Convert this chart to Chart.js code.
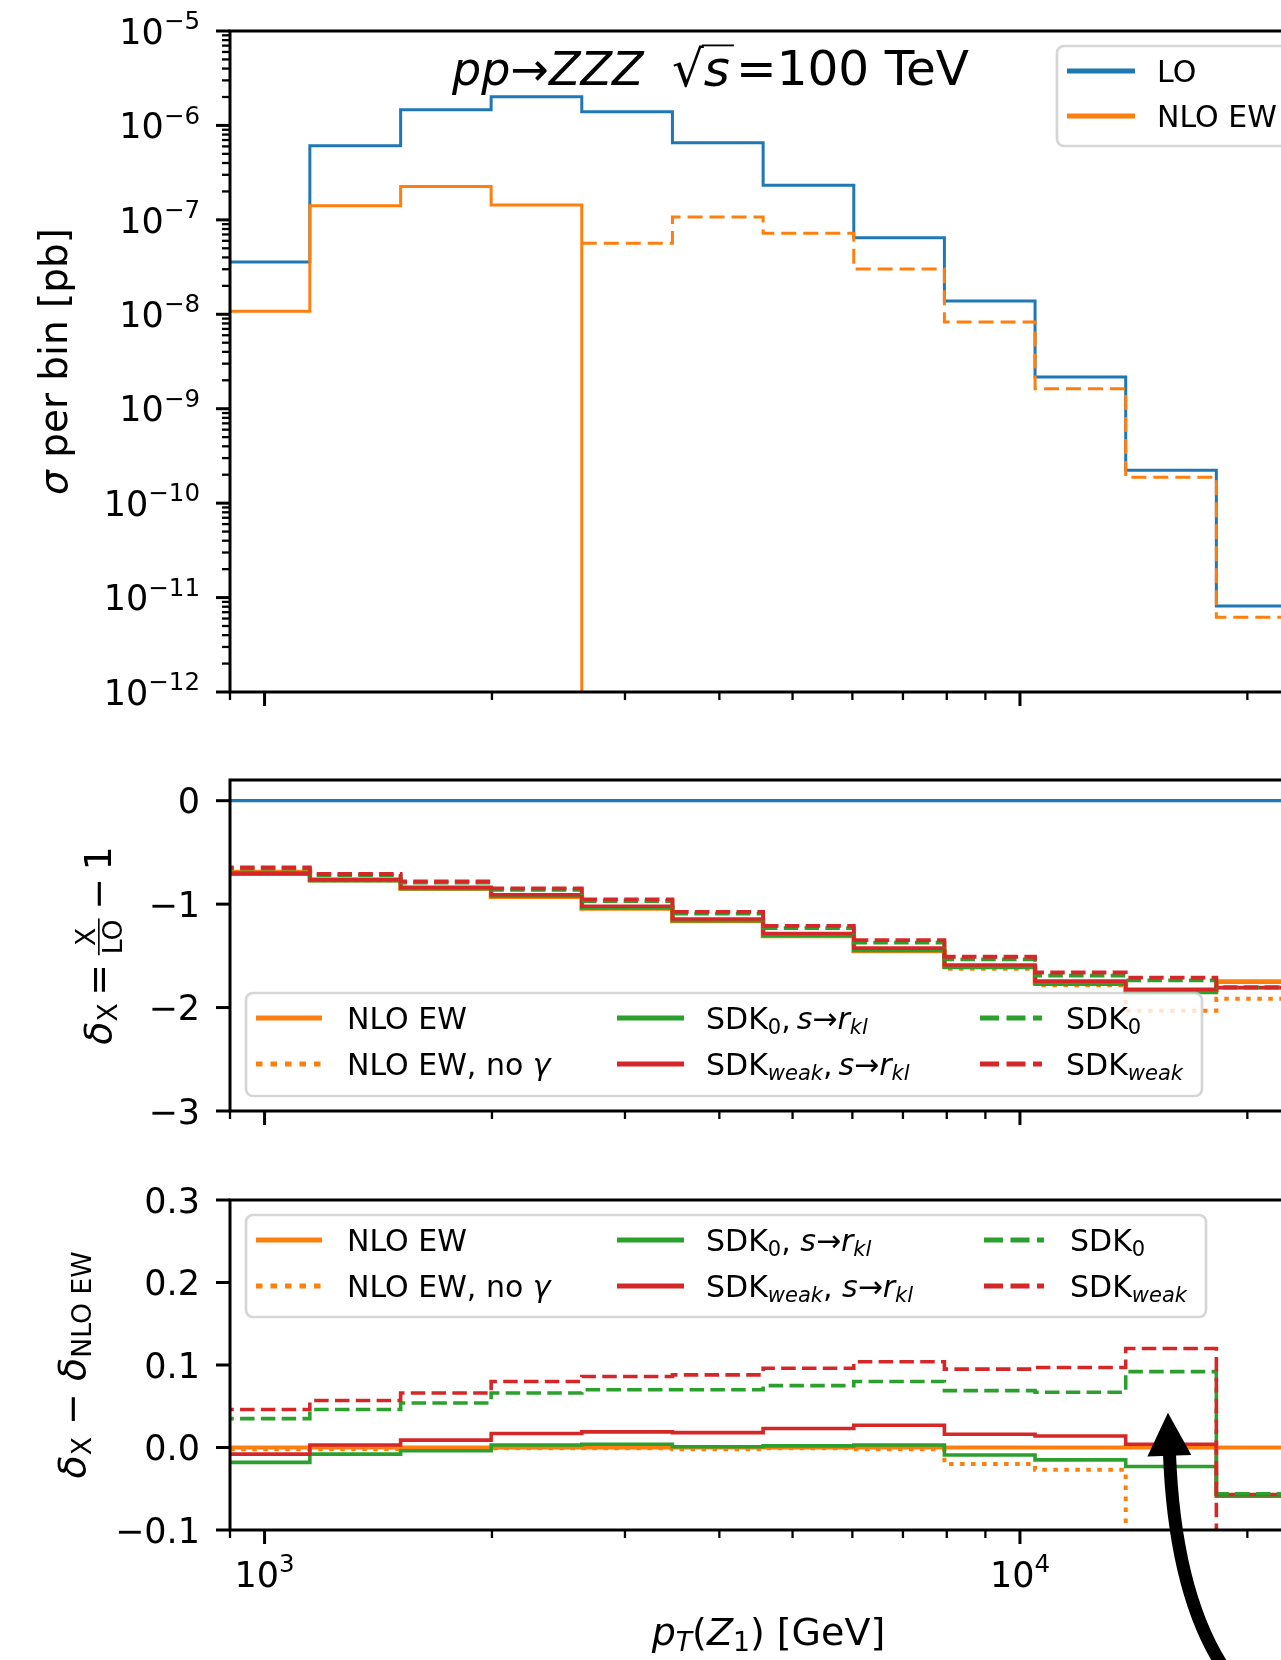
<!DOCTYPE html>
<html>
<head>
<meta charset="utf-8">
<title>pp -> ZZZ pT(Z1)</title>
<script src="https://cdn.jsdelivr.net/npm/chart.js@4.4.1/dist/chart.umd.min.js"></script>
<style>
    html, body { margin: 0; padding: 0; background: #fff; overflow: hidden; width: 1281px; height: 1660px; }
    canvas { position: absolute; left: 0; }
</style>
</head>
<body>
<canvas id="chart-sigma" width="1400" height="740" style="top:0px"></canvas>
<canvas id="chart-delta" width="1400" height="410" style="top:740px"></canvas>
<canvas id="chart-diff" width="1400" height="510" style="top:1150px"></canvas>
<script>
// ---- values ----
const binEdges = [871, 1148, 1514, 1995, 2630, 3467, 4571, 6026, 7943, 10471, 13804, 18197, 23988];

// top panel: sigma per bin [pb] (negative NLO values are drawn dashed as |value|)
const sigmaLO = [3.58e-8, 6.1e-7, 1.47e-6, 2.01e-6, 1.40e-6, 6.56e-7, 2.32e-7, 6.47e-8, 1.38e-8, 2.17e-9, 2.23e-10, 8.14e-12];
const sigmaNLOEW = [1.08e-8, 1.41e-7, 2.26e-7, 1.44e-7, -5.64e-8, -1.07e-7, -7.2e-8, -3.02e-8, -8.28e-9, -1.63e-9, -1.88e-10, -6.18e-12];

// middle panel: delta_X = X/LO - 1
const deltaLO = [0, 0, 0, 0, 0, 0, 0, 0, 0, 0, 0, 0];
const deltaNLOEW = [-0.692, -0.766, -0.847, -0.927, -1.040, -1.162, -1.307, -1.452, -1.604, -1.758, -1.830, -1.749];
const deltaNLOnoGamma = [-0.694, -0.768, -0.848, -0.928, -1.041, -1.164, -1.308, -1.454, -1.624, -1.785, -2.030, -1.916];
const deltaSDK0rkl = [-0.710, -0.774, -0.851, -0.924, -1.036, -1.161, -1.305, -1.449, -1.613, -1.773, -1.853, -1.808];
const deltaSDKweakRkl = [-0.700, -0.763, -0.838, -0.910, -1.021, -1.144, -1.284, -1.425, -1.588, -1.744, -1.826, -1.806];
const deltaSDK0 = [-0.657, -0.720, -0.793, -0.861, -0.970, -1.092, -1.232, -1.372, -1.535, -1.691, -1.738, -1.805];
const deltaSDKweak = [-0.646, -0.709, -0.781, -0.847, -0.954, -1.074, -1.211, -1.348, -1.509, -1.661, -1.710, -1.804];

// bottom panel: delta_X - delta_NLO EW
const diffNLOEW = [0, 0, 0, 0, 0, 0, 0, 0, 0, 0, 0, 0];
const diffNLOnoGamma = [-0.002, -0.002, -0.001, -0.001, -0.001, -0.002, -0.001, -0.002, -0.020, -0.027, -0.21, -0.167];
const diffSDK0rkl = [-0.018, -0.008, -0.004, 0.003, 0.004, 0.001, 0.002, 0.003, -0.009, -0.015, -0.023, -0.059];
const diffSDKweakRkl = [-0.008, 0.003, 0.009, 0.017, 0.019, 0.018, 0.023, 0.027, 0.016, 0.014, 0.004, -0.057];
const diffSDK0 = [0.035, 0.046, 0.054, 0.066, 0.070, 0.070, 0.075, 0.080, 0.069, 0.067, 0.092, -0.056];
const diffSDKweak = [0.046, 0.057, 0.066, 0.080, 0.086, 0.088, 0.096, 0.104, 0.095, 0.097, 0.120, -0.30];

// ticks
const xMajorTicks = [1000, 10000];
const xTickExponents = ['3', '4'];
const xMinorTicks = [900, 2000, 3000, 4000, 5000, 6000, 7000, 8000, 9000, 20000];
const sigmaTicks = [1e-12, 1e-11, 1e-10, 1e-9, 1e-8, 1e-7, 1e-6, 1e-5];
const sigmaTickExponents = ['\u221212', '\u221211', '\u221210', '\u22129', '\u22128', '\u22127', '\u22126', '\u22125'];
const deltaTicks = [0, -1, -2, -3];
const deltaTickLabels = ['0', '\u22121', '\u22122', '\u22123'];
const diffTicks = [0.3, 0.2, 0.1, 0.0, -0.1];
const diffTickLabels = ['0.3', '0.2', '0.1', '0.0', '\u22120.1'];

// the big arrow drawn in the bottom panel (data coordinates)
const arrowAnnotation = { tip: [15700, 0.042], base: [15770, -0.010], ctrl: [16010, -0.172], tail: [18480, -0.263] };

const BLUE = '#1f77b4', ORANGE = '#ff7f0e', GREEN = '#2ca02c', RED = '#d62728';
const FONT = '"DejaVu Sans", sans-serif';
const LEGEND_SIZE = 30;

function sigmaMinorTicks() {
    const out = [];
    for (let k = -12; k < -5; k++) {
        for (let m = 2; m <= 9; m++) out.push(m * Math.pow(10, k));
    }
    return out;
}

// ---- rich text (sub/superscripts, italics, fraction) ----
function setFont(ctx, size, italic) {
    ctx.font = (italic ? 'italic ' : '') + size + 'px ' + FONT;
}

function segSize(s, size) {
    return (s.sub || s.sup) ? size * 0.7 : size;
}

function fracWidth(ctx, s, size) {
    setFont(ctx, size * 0.7, false);
    return Math.max(ctx.measureText(s.num).width, ctx.measureText(s.den).width) + 4;
}

function richWidth(ctx, segs, size) {
    let w = 0;
    segs.forEach(s => {
        if (s.frac) { w += fracWidth(ctx, s, size); return; }
        setFont(ctx, segSize(s, size), s.it);
        w += ctx.measureText(s.t).width;
    });
    return w;
}

function drawRich(ctx, segs, x, y, size, align) {
    const total = richWidth(ctx, segs, size);
    let cx = align === 'center' ? x - total / 2 : align === 'right' ? x - total : x;
    ctx.textAlign = 'left';
    ctx.textBaseline = 'alphabetic';
    ctx.fillStyle = '#000';
    segs.forEach(s => {
        if (s.frac) {
            const w = fracWidth(ctx, s, size);
            const fs = size * 0.7;
            const barY = y - size * 0.32;
            setFont(ctx, fs, false);
            ctx.textAlign = 'center';
            ctx.fillText(s.num, cx + w / 2, barY - 4);
            ctx.fillText(s.den, cx + w / 2, barY + 4 + fs * 0.73);
            ctx.textAlign = 'left';
            ctx.fillRect(cx + 1, barY - 0.8, w - 2, 1.6);
            cx += w;
            return;
        }
        const fs = segSize(s, size);
        setFont(ctx, fs, s.it);
        let dy = 0;
        if (s.sub) dy = size * 0.17;
        if (s.sup) dy = -size * 0.42;
        ctx.fillText(s.t, cx, y + dy);
        const w = ctx.measureText(s.t).width;
        if (s.over) ctx.fillRect(cx - 2, y - size * 0.83, w + 6, 1.8);
        cx += w;
    });
}

function drawRotated(ctx, segs, baseX, centerY, size) {
    ctx.save();
    ctx.translate(baseX, centerY);
    ctx.rotate(-Math.PI / 2);
    drawRich(ctx, segs, 0, 0, size, 'center');
    ctx.restore();
}

// ---- legend ----
function drawLegend(ctx, lg) {
    const b = lg.box;
    ctx.save();
    ctx.beginPath();
    ctx.roundRect(b.x, b.y, b.w, b.h, 7);
    ctx.fillStyle = 'rgba(255,255,255,0.8)';
    ctx.fill();
    ctx.lineWidth = 2.7;
    ctx.strokeStyle = 'rgba(204,204,204,0.8)';
    ctx.stroke();
    lg.items.forEach(it => {
        const col = lg.cols[it.col];
        const y = lg.rows[it.row];
        ctx.beginPath();
        ctx.setLineDash(it.dash || []);
        ctx.lineCap = 'butt';
        ctx.strokeStyle = it.color;
        ctx.lineWidth = it.width;
        ctx.moveTo(col.h0, y);
        ctx.lineTo(col.h1, y);
        ctx.stroke();
        ctx.setLineDash([]);
        drawRich(ctx, it.label, col.tx, y + LEGEND_SIZE * 0.365, LEGEND_SIZE, 'left');
    });
    ctx.restore();
}

// ---- axes frame, ticks, labels ----
function tickMark(ctx, x0, y0, x1, y1, w) {
    ctx.beginPath();
    ctx.lineWidth = w;
    ctx.moveTo(x0, y0);
    ctx.lineTo(x1, y1);
    ctx.stroke();
}

function decorPlugin(cfg) {
    return {
        id: 'decor',
        afterDraw(chart) {
            const ctx = chart.ctx;
            const a = chart.chartArea;
            const xs = chart.scales.x;
            const ys = chart.scales.y;
            ctx.save();
            ctx.strokeStyle = '#000';
            ctx.fillStyle = '#000';
            ctx.lineCap = 'butt';
            ctx.setLineDash([]);

            ctx.lineWidth = 3;
            ctx.strokeRect(a.left, a.top, a.right - a.left, a.bottom - a.top);

            xMajorTicks.forEach(v => {
                const px = xs.getPixelForValue(v);
                tickMark(ctx, px, a.bottom, px, a.bottom + 14, 3);
            });
            xMinorTicks.forEach(v => {
                const px = xs.getPixelForValue(v);
                tickMark(ctx, px, a.bottom, px, a.bottom + 8, 2.3);
            });
            cfg.yMajor.forEach(v => {
                const py = ys.getPixelForValue(v);
                tickMark(ctx, a.left, py, a.left - 14, py, 3);
            });
            (cfg.yMinor || []).forEach(v => {
                const py = ys.getPixelForValue(v);
                tickMark(ctx, a.left, py, a.left - 8, py, 2.3);
            });

            cfg.yMajor.forEach((v, i) => {
                const py = ys.getPixelForValue(v);
                drawRich(ctx, cfg.yLabel(i), a.left - 30, py + 35 * 0.365, 35, 'right');
            });

            if (cfg.xLabels) {
                xMajorTicks.forEach((v, i) => {
                    const px = xs.getPixelForValue(v);
                    drawRich(ctx, [{ t: '10' }, { t: xTickExponents[i], sup: true }], px, a.bottom + 57, 35, 'center');
                });
                drawRich(ctx, cfg.xTitle, (a.left + a.right) / 2, cfg.xTitleY, 38, 'center');
            }

            drawRotated(ctx, cfg.yTitle, cfg.yTitleX, (a.top + a.bottom) / 2, cfg.yTitleSize || 38);

            if (cfg.title) {
                cfg.title.forEach(t => drawRich(ctx, t.segs, t.x, t.y, t.size, 'left'));
            }

            if (cfg.legend) drawLegend(ctx, cfg.legend);

            if (cfg.arrow) {
                const p = v => [xs.getPixelForValue(v[0]), ys.getPixelForValue(v[1])];
                const tip = p(cfg.arrow.tip), base = p(cfg.arrow.base);
                const ctrl = p(cfg.arrow.ctrl), tail = p(cfg.arrow.tail);
                ctx.beginPath();
                ctx.lineWidth = 13;
                ctx.moveTo(base[0], base[1] - 4);
                ctx.quadraticCurveTo(ctrl[0], ctrl[1], tail[0], tail[1]);
                ctx.stroke();
                const dx = tip[0] - base[0], dy = tip[1] - base[1];
                const len = Math.hypot(dx, dy);
                const nx = -dy / len * 22, ny = dx / len * 22;
                ctx.beginPath();
                ctx.moveTo(tip[0], tip[1]);
                ctx.lineTo(base[0] + nx, base[1] + ny);
                ctx.lineTo(base[0] - nx, base[1] - ny);
                ctx.closePath();
                ctx.fill();
            }
            ctx.restore();
        }
    };
}

// ---- datasets ----
function histPoints(values) {
    const pts = values.map((v, i) => ({ x: binEdges[i], y: v }));
    pts.push({ x: binEdges[values.length], y: values[values.length - 1] });
    return pts;
}

function stepLine(values, color, width, dash) {
    return {
        data: histPoints(values),
        stepped: 'before',
        borderColor: color,
        borderWidth: width,
        borderDash: dash || [],
        borderCapStyle: 'butt',
        borderJoinStyle: 'miter',
        pointRadius: 0,
        fill: false,
        spanGaps: false
    };
}

function makeChart(id, datasets, yScale, padding, cfg) {
    // later datasets on top, as in the original
    datasets.forEach((d, i) => { d.order = datasets.length - i; });
    return new Chart(document.getElementById(id), {
        type: 'line',
        data: { datasets: datasets },
        options: {
            responsive: false,
            animation: false,
            events: [],
            layout: { padding: padding },
            plugins: { legend: { display: false }, tooltip: { enabled: false } },
            scales: {
                x: { type: 'logarithmic', min: 900, max: 23988, bounds: 'data', display: false },
                y: Object.assign({ bounds: 'data', display: false }, yScale)
            }
        },
        plugins: [decorPlugin(cfg)]
    });
}

const DASH_P1 = [15, 7];
const DASH = [14.5, 6.3];
const DOT = [4.5, 6.5];
const LEG_DASH = [19, 7.5];
const LEG_DOT = [6.5, 8];

function labelsSDK(comma) {
    return {
        nlo: [{ t: 'NLO EW' }],
        noGamma: [{ t: 'NLO EW, no ' }, { t: '\u03b3', it: true }],
        sdk0rkl: [{ t: 'SDK' }, { t: '0', sub: true }, { t: comma }, { t: 's', it: true }, { t: '\u2192' }, { t: 'r', it: true }, { t: 'kl', it: true, sub: true }],
        sdkWrkl: [{ t: 'SDK' }, { t: 'weak', it: true, sub: true }, { t: comma }, { t: 's', it: true }, { t: '\u2192' }, { t: 'r', it: true }, { t: 'kl', it: true, sub: true }],
        sdk0: [{ t: 'SDK' }, { t: '0', sub: true }],
        sdkW: [{ t: 'SDK' }, { t: 'weak', it: true, sub: true }]
    };
}

function ratioLegendItems(lb) {
    return [
        { col: 0, row: 0, color: ORANGE, width: 5, label: lb.nlo },
        { col: 0, row: 1, color: ORANGE, width: 5, dash: LEG_DOT, label: lb.noGamma },
        { col: 1, row: 0, color: GREEN, width: 5, label: lb.sdk0rkl },
        { col: 1, row: 1, color: RED, width: 5, label: lb.sdkWrkl },
        { col: 2, row: 0, color: GREEN, width: 5, dash: LEG_DASH, label: lb.sdk0 },
        { col: 2, row: 1, color: RED, width: 5, dash: LEG_DASH, label: lb.sdkW }
    ];
}

// top panel
makeChart('chart-sigma', [
    stepLine(sigmaLO, BLUE, 3),
    stepLine(sigmaNLOEW.map(v => v > 0 ? v : 1e-30), ORANGE, 3),
    stepLine(sigmaNLOEW.map(v => v < 0 ? -v : null), ORANGE, 3, DASH_P1)
], { type: 'logarithmic', min: 1e-12, max: 1e-5 }, { left: 230, top: 31, right: 93, bottom: 48 }, {
    yMajor: sigmaTicks,
    yMinor: sigmaMinorTicks(),
    yLabel: i => [{ t: '10' }, { t: sigmaTickExponents[i], sup: true }],
    yTitle: [{ t: '\u03c3', it: true }, { t: ' per bin [pb]' }],
    yTitleX: 67,
    yTitleSize: 39,
    title: [
        { x: 452, y: 85, size: 46, segs: [{ t: 'pp', it: true }, { t: '\u2192' }, { t: 'ZZZ', it: true }] },
        { x: 672, y: 86, size: 50, segs: [{ t: '\u221a' }, { t: 's', it: true, over: true }] },
        { x: 736, y: 85, size: 48.5, segs: [{ t: '=100 TeV' }] }
    ],
    legend: {
        box: { x: 1057, y: 46, w: 236, h: 100 },
        rows: [71, 116],
        cols: [{ h0: 1067, h1: 1135, tx: 1157 }],
        items: [
            { col: 0, row: 0, color: BLUE, width: 5, label: [{ t: 'LO' }] },
            { col: 0, row: 1, color: ORANGE, width: 5, label: [{ t: 'NLO EW' }] }
        ]
    }
});

// middle panel
makeChart('chart-delta', [
    stepLine(deltaLO, BLUE, 3.3),
    stepLine(deltaNLOEW, ORANGE, 4.8),
    stepLine(deltaNLOnoGamma, ORANGE, 4, DOT),
    stepLine(deltaSDK0rkl, GREEN, 3.6),
    stepLine(deltaSDKweakRkl, RED, 3.6),
    stepLine(deltaSDK0, GREEN, 3.8, DASH),
    stepLine(deltaSDKweak, RED, 3.8, DASH)
], { type: 'linear', min: -3, max: 0.2 }, { left: 230, top: 40, right: 93, bottom: 39 }, {
    yMajor: deltaTicks,
    yLabel: i => [{ t: deltaTickLabels[i] }],
    yTitle: [{ t: '\u03b4', it: true }, { t: 'X', sub: true }, { t: '\u2009=\u2009' }, { frac: true, num: 'X', den: 'LO' }, { t: '\u2009\u2212\u20091' }],
    yTitleX: 111,
    legend: {
        box: { x: 246, y: 253, w: 956, h: 103 },
        rows: [278, 324],
        cols: [{ h0: 256, h1: 322, tx: 347 }, { h0: 617, h1: 684, tx: 706 }, { h0: 980, h1: 1042, tx: 1066 }],
        items: ratioLegendItems(labelsSDK(',\u2009'))
    }
});

// bottom panel
makeChart('chart-diff', [
    stepLine(diffNLOEW, ORANGE, 4),
    stepLine(diffNLOnoGamma, ORANGE, 4, DOT),
    stepLine(diffSDK0rkl, GREEN, 3.6),
    stepLine(diffSDKweakRkl, RED, 3.6),
    stepLine(diffSDK0, GREEN, 3.6, DASH),
    stepLine(diffSDKweak, RED, 3.6, DASH)
], { type: 'linear', min: -0.1, max: 0.3 }, { left: 230, top: 50, right: 93, bottom: 130 }, {
    yMajor: diffTicks,
    yLabel: i => [{ t: diffTickLabels[i] }],
    yTitle: [{ t: '\u03b4', it: true }, { t: 'X', sub: true }, { t: ' \u2212 ' }, { t: '\u03b4', it: true }, { t: 'NLO EW', sub: true }],
    yTitleX: 85,
    xLabels: true,
    xTitle: [{ t: 'p', it: true }, { t: 'T', it: true, sub: true }, { t: '(' }, { t: 'Z', it: true }, { t: '1', sub: true }, { t: ') [GeV]' }],
    xTitleY: 495,
    legend: {
        box: { x: 246, y: 65, w: 960, h: 102 },
        rows: [90, 136],
        cols: [{ h0: 256, h1: 322, tx: 347 }, { h0: 617, h1: 684, tx: 706 }, { h0: 984, h1: 1044, tx: 1070 }],
        items: ratioLegendItems(labelsSDK(', '))
    },
    arrow: arrowAnnotation
});
</script>
</body>
</html>
